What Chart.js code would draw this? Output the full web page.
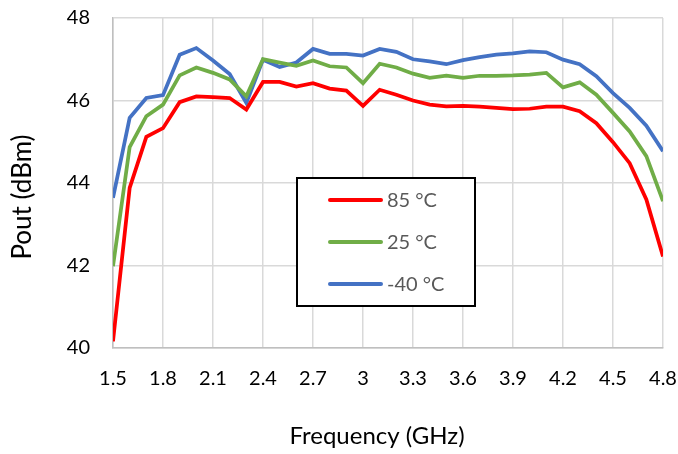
<!DOCTYPE html>
<html>
<head>
<meta charset="utf-8">
<script src="https://cdn.jsdelivr.net/npm/chart.js@4/dist/chart.umd.min.js"></script>
<style>
  html, body { margin: 0; padding: 0; background: #fff; }
  #wrap { width: 678px; height: 454px; }
</style>
</head>
<body>
<div id="wrap"><canvas id="chartCanvas" width="678" height="454"></canvas></div>
<script>
// frequency points (GHz)
const freq = [1.5, 1.6, 1.7, 1.8, 1.9, 2.0, 2.1, 2.2, 2.3, 2.4, 2.5, 2.6, 2.7, 2.8, 2.9, 3.0, 3.1,
  3.2, 3.3, 3.4, 3.5, 3.6, 3.7, 3.8, 3.9, 4.0, 4.1, 4.2, 4.3, 4.4, 4.5, 4.6, 4.7, 4.8];

// Pout (dBm) per temperature
const pout85 = [40.16, 43.88, 45.12, 45.33, 45.96, 46.10, 46.08, 46.06, 45.78, 46.45, 46.45, 46.34,
  46.42, 46.29, 46.24, 45.87, 46.26, 46.14, 46.00, 45.90, 45.86, 45.87, 45.85, 45.82, 45.79, 45.80,
  45.85, 45.85, 45.74, 45.45, 44.99, 44.48, 43.60, 42.22];
const pout25 = [41.98, 44.87, 45.62, 45.90, 46.61, 46.80, 46.67, 46.51, 46.10, 47.00, 46.92, 46.84,
  46.97, 46.83, 46.80, 46.42, 46.89, 46.80, 46.65, 46.55, 46.60, 46.55, 46.60, 46.60, 46.61, 46.63,
  46.67, 46.32, 46.44, 46.14, 45.70, 45.25, 44.65, 43.56];
const poutM40 = [43.64, 45.58, 46.06, 46.13, 47.11, 47.27, 46.97, 46.64, 45.94, 46.99, 46.81, 46.92,
  47.25, 47.13, 47.13, 47.09, 47.25, 47.18, 47.00, 46.95, 46.88, 46.98, 47.05, 47.11, 47.14, 47.19,
  47.17, 46.99, 46.88, 46.59, 46.18, 45.82, 45.39, 44.77];

const seriesNames = ["85 \u00B0C", "25 \u00B0C", "-40 \u00B0C"];
const seriesColors = ["#FF0000", "#70AD47", "#4472C4"];

const xTicks = [1.5, 1.8, 2.1, 2.4, 2.7, 3.0, 3.3, 3.6, 3.9, 4.2, 4.5, 4.8];
const yTicks = [40, 42, 44, 46, 48];

const xTitle = "Frequency (GHz)";
const yTitle = "Pout (dBm)";

const FONT = "Lato";
const gridColor = "#D9D9D9";

function toPoints(vals) {
  return vals.map((v, i) => ({ x: freq[i], y: v }));
}

// legend box drawn inside the plot, like the Excel chart
const boxLegend = {
  id: "boxLegend",
  afterDraw(chart) {
    const ctx = chart.ctx;
    const bx = 297, by = 178, bw = 178, bh = 128;
    ctx.save();
    ctx.fillStyle = "#fff";
    ctx.fillRect(bx, by, bw, bh);
    ctx.strokeStyle = "#000";
    ctx.lineWidth = 2;
    ctx.strokeRect(bx, by, bw, bh);
    ctx.font = "20px " + FONT;
    ctx.textBaseline = "middle";
    ctx.fillStyle = "#595959";
    chart.data.datasets.forEach((ds, i) => {
      const cy = by + 22 + i * 42;
      ctx.strokeStyle = ds.borderColor;
      ctx.lineWidth = 4;
      ctx.lineCap = "round";
      ctx.beginPath();
      ctx.moveTo(330, cy);
      ctx.lineTo(381, cy);
      ctx.stroke();
      ctx.fillText(ds.label, 387, cy + 1);
    });
    // axis titles
    ctx.fillStyle = "#000";
    ctx.textAlign = "center";
    ctx.font = "24px " + FONT;
    ctx.fillText(xTitle, 377, 436);
    ctx.translate(23, 197);
    ctx.rotate(-Math.PI / 2);
    ctx.font = "26px " + FONT;
    ctx.fillText(yTitle, 0, 0);
    ctx.restore();
  }
};

const ctx = document.getElementById("chartCanvas").getContext("2d");
const chart = new Chart(ctx, {
  type: "line",
  data: {
    datasets: [pout85, pout25, poutM40].map((vals, i) => ({
      label: seriesNames[i],
      data: toPoints(vals),
      borderColor: seriesColors[i],
      backgroundColor: seriesColors[i],
      borderWidth: 3.75,
      pointRadius: 0,
      tension: 0,
      fill: false
    }))
  },
  options: {
    responsive: false,
    animation: false,
    layout: { padding: { top: 18, right: 15, left: 0, bottom: 0 } },
    plugins: {
      legend: { display: false },
      tooltip: { enabled: false }
    },
    scales: {
      x: {
        type: "linear",
        min: 1.5,
        max: 4.8,
        afterBuildTicks: s => { s.ticks = xTicks.map(v => ({ value: v })); },
        afterFit: s => { s.height = 106; s.paddingLeft = 0; s.paddingRight = 0; },
        grid: { color: gridColor, lineWidth: 1.5, drawTicks: false },
        border: { color: "#BFBFBF", width: 1.5 },
        ticks: {
          padding: 19,
          color: "#000",
          font: { family: FONT, size: 20 },
          maxRotation: 0,
          autoSkip: false,
          callback: v => String(Math.round(v * 10) / 10)
        }
      },
      y: {
        min: 40,
        max: 48,
        afterBuildTicks: s => { s.ticks = yTicks.map(v => ({ value: v })); },
        afterFit: s => { s.width = 113; s.paddingTop = 0; s.paddingBottom = 0; },
        grid: { color: gridColor, lineWidth: 1.5, drawTicks: false },
        border: { color: "#BFBFBF", width: 1.5 },
        ticks: {
          padding: 23,
          color: "#000",
          font: { family: FONT, size: 20 }
        }
      }
    }
  },
  plugins: [boxLegend]
});
</script>
</body>
</html>
